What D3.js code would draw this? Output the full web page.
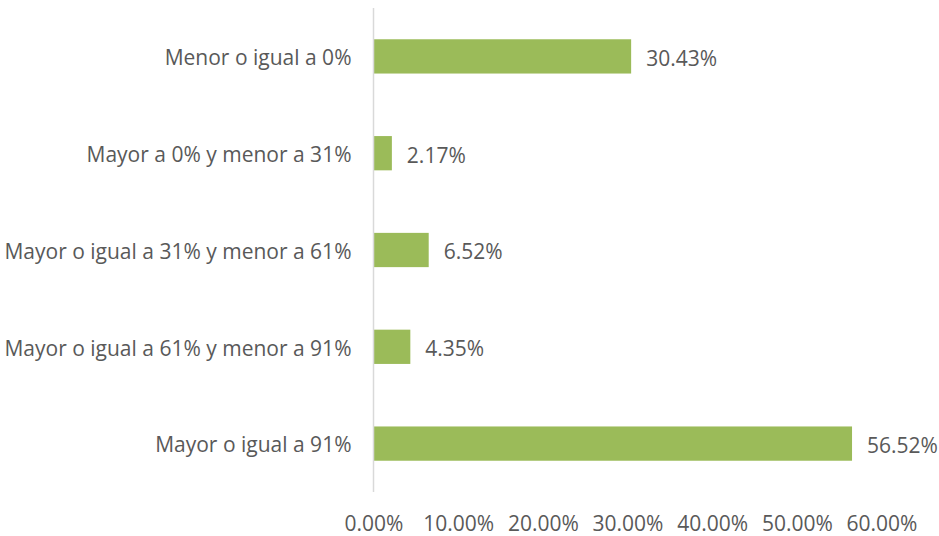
<!DOCTYPE html>
<html>
<head>
<meta charset="utf-8">
<script src="https://cdn.jsdelivr.net/npm/d3@7"></script>
<style>
  html, body { margin: 0; padding: 0; background: #ffffff; }
  svg text { font-family: "Open Sans", Lato, sans-serif; fill: #595959; }
</style>
</head>
<body>
<svg id="chart" width="939" height="536"></svg>
<script>
// Range categories, top to bottom
const categories = [
  "Menor o igual a 0%",
  "Mayor a 0% y menor a 31%",
  "Mayor o igual a 31% y menor a 61%",
  "Mayor o igual a 61% y menor a 91%",
  "Mayor o igual a 91%"
];
// Share of each range (percent)
const values = [30.43, 2.17, 6.52, 4.35, 56.52];
// Horizontal axis ticks (percent)
const tickValues = [0, 10, 20, 30, 40, 50, 60];

const FONT_SIZE = "21px";

const svg = d3.select("#chart");
const margin = { top: 8, right: 57.5, bottom: 44, left: 373.5 };
const width = 939 - margin.left - margin.right;
const height = 536 - margin.top - margin.bottom;

const g = svg.append("g").attr("transform", `translate(${margin.left},${margin.top})`);

const x = d3.scaleLinear().domain([0, 60]).range([0, width]);
const y = d3.scaleBand().domain(categories).range([0, height]).paddingInner(0.646).paddingOuter(0.323);

const data = categories.map((c, i) => ({ cat: c, val: values[i] }));

// Bars
g.selectAll("rect.bar")
  .data(data)
  .join("rect")
  .attr("class", "bar")
  .attr("x", x(0))
  .attr("y", d => y(d.cat))
  .attr("width", d => x(d.val) - x(0))
  .attr("height", y.bandwidth())
  .attr("fill", "#9bbb59");

// Value labels
g.selectAll("text.val")
  .data(data)
  .join("text")
  .attr("class", "val")
  .attr("x", d => x(d.val) + 15)
  .attr("y", d => y(d.cat) + y.bandwidth() / 2 + 2)
  .attr("dy", "0.35em")
  .attr("font-size", FONT_SIZE)
  .text(d => d.val.toFixed(2) + "%");

// Category labels
const yAxis = g.append("g").call(d3.axisLeft(y).tickSize(0).tickPadding(22));
yAxis.select(".domain").remove();
yAxis.attr("font-family", null);
yAxis.selectAll("text").attr("font-size", FONT_SIZE).attr("fill", null).attr("y", 2);

// Vertical axis line
g.append("line")
  .attr("x1", x(0)).attr("x2", x(0))
  .attr("y1", 0).attr("y2", height)
  .attr("stroke", "#d9d9d9").attr("stroke-width", 1.5);

// Bottom tick labels
const xAxis = g.append("g")
  .attr("transform", `translate(0,${height})`)
  .call(d3.axisBottom(x).tickValues(tickValues).tickSize(0).tickPadding(24).tickFormat(d => d.toFixed(2) + "%"));
xAxis.select(".domain").remove();
xAxis.attr("font-family", null);
xAxis.selectAll("text").attr("font-size", FONT_SIZE).attr("fill", null);
</script>
</body>
</html>
